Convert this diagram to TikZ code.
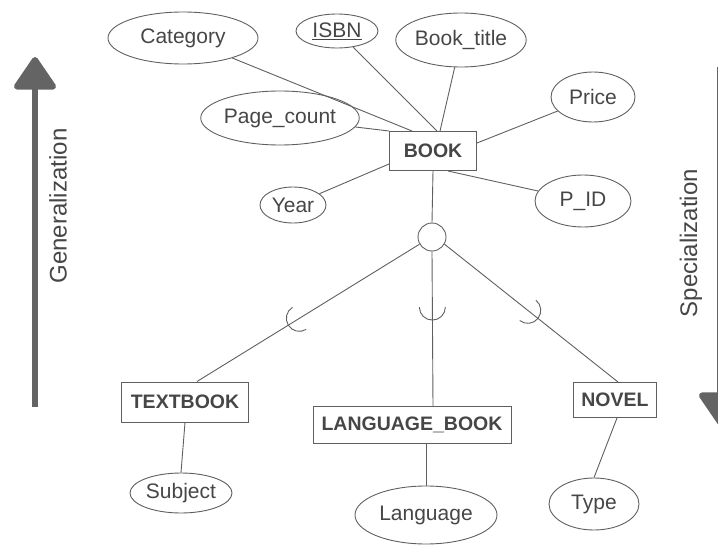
\documentclass[tikz,border=0pt]{standalone}
\usepackage{fontspec}
\setmainfont{Liberation Sans}
\usetikzlibrary{shapes.geometric,decorations.markings,arrows.meta,calc}
\definecolor{ink}{RGB}{95,95,95}
\definecolor{txt}{RGB}{70,70,70}
\definecolor{arr}{RGB}{100,100,100}
\begin{document}
\begin{tikzpicture}[x=1pt,y=-1pt,
  attr/.style={ellipse, draw=ink, line width=0.9pt, inner sep=0pt, text=txt,
    font=\fontsize{21}{23}\selectfont},
  entity/.style={rectangle, draw=ink, line width=1pt, inner sep=0pt, text=txt,
    font=\fontsize{19.5}{22}\selectfont\bfseries},
  link/.style={draw=ink, line width=0.9pt},
  subset/.style={postaction={decorate}, decoration={markings,
    mark=at position #1 with {\draw[ink, line width=0.9pt] (0,13) arc[start angle=90, end angle=-90, radius=13];}}},
  dirarrow/.style={draw=arr, line width=6pt, -{Triangle[width=46pt,length=35pt,round]}},
  dirlabel/.style={text=txt, font=\fontsize{24}{26}\selectfont, rotate=90}]
\useasboundingbox (0,0) rectangle (718,546);
\clip (0,0) rectangle (718,546);

% superclass and its attributes
\node[entity, minimum width=87pt, minimum height=39pt] (book) at (433,151) {BOOK};
\node[attr, minimum width=150pt, minimum height=52pt] (category) at (183,38) {Category};
\node[attr, minimum width=82pt, minimum height=34pt] (isbn) at (337,31) {\underline{ISBN}};
\node[attr, minimum width=130pt, minimum height=54pt] (title) at (461,40) {Book\_title};
\node[attr, minimum width=84pt, minimum height=50pt] (price) at (593,97) {Price};
\node[attr, minimum width=144pt, minimum height=54pt] (pages) at (280,118) {Page\_count};
\node[attr, minimum width=66pt, minimum height=36pt] (year) at (293,205) {Year};
\node[attr, minimum width=96pt, minimum height=52pt] (pid) at (583,201) {P\_ID};

\draw[link] (category) -- ($(book.north west)+(23,0)$);
\draw[link] (isbn) -- ($(book.north)+(4,0)$);
\draw[link] (title) -- ($(book.north)+(7,0)$);
\draw[link] (pages) -- (book.north west);
\draw[link] (year) -- ($(book.south west)+(0,-7)$);
\draw[link] (price) -- ($(book.east)+(0,-8)$);
\draw[link] (pid) -- ($(book.south)+(15,0)$);

% specialization circle
\node[circle, draw=ink, line width=0.9pt, minimum size=28pt, inner sep=0pt] (spec) at (432,237) {};
\draw[link] (book.south) -- (spec.north);

% subclasses
\node[entity, minimum width=127pt, minimum height=40pt] (text) at (185,402) {TEXTBOOK};
\node[entity, minimum width=198pt, minimum height=37pt] (lang) at (412,425) {LANGUAGE\_BOOK};
\node[entity, minimum width=83pt, minimum height=35pt] (novel) at (615,400) {NOVEL};

\draw[link, subset=0.54] (spec.210) -- ($(text.north)+(12,0)$);
\draw[link, subset=0.36] (spec.south) -- ($(lang.north)+(21,0)$);
\draw[link, subset=0.48] (spec.330) -- ($(novel.north)+(3,0)$);

% subclass attributes
\node[attr, minimum width=102pt, minimum height=40pt] (subject) at (181,493) {Subject};
\node[attr, minimum width=142pt, minimum height=58pt] (language) at (426,515) {Language};
\node[attr, minimum width=90pt, minimum height=52pt] (type) at (594,504) {Type};

\draw[link] (text.south) -- (subject.north);
\draw[link] ($(lang.south)+(14,0)$) -- (language.north);
\draw[link] ($(novel.south)+(2,0)$) -- (type.north);

% direction arrows at the sides
\coordinate (gtail) at (35,407);
\coordinate (ghead) at (35,57);
\draw[dirarrow] (gtail) -- (ghead);
\node[dirlabel] (glabel) at (58,206) {Generalization};

\coordinate (stail) at (720,67);
\coordinate (shead) at (720,425);
\draw[dirarrow] (stail) -- (shead);
\node[dirlabel] (slabel) at (691,243) {Specialization};
\end{tikzpicture}
\end{document}
